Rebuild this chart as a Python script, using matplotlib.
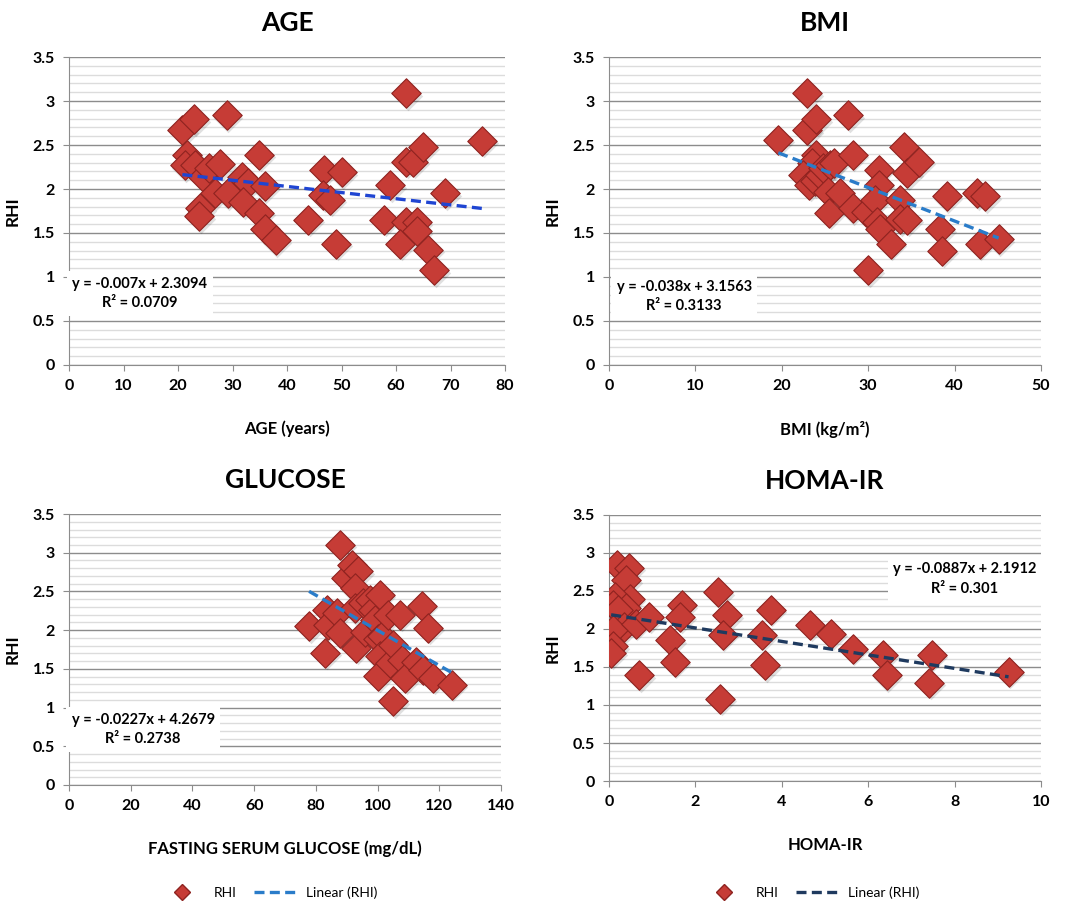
import numpy as np
import matplotlib
matplotlib.use("Agg")
import matplotlib.pyplot as plt
from matplotlib.lines import Line2D

plt.rcParams["font.family"] = ["Lato", "DejaVu Sans"]
plt.rcParams["font.weight"] = "bold"

# ---- data ----
age_x = [20.8, 22.9, 21.7, 21.2, 23.1, 24.6, 25.7, 24.0, 23.9, 26.7, 27.7, 28.9, 29.1,
         31.8, 32.9, 31.9, 34.9, 34.9, 35.9, 35.9, 37.9, 43.9, 46.8, 46.6, 47.9, 49.0,
         50.0, 57.8, 58.9, 61.8, 61.8, 63.2, 65.0, 61.8, 60.8, 63.8, 63.8, 65.9, 67.0,
         69.0, 75.8]
age_y = [2.67, 2.79, 2.39, 2.27, 2.27, 2.14, 2.24, 1.78, 1.69, 1.95, 2.28, 2.84, 1.95,
         2.14, 2.07, 1.85, 2.39, 1.73, 2.03, 1.55, 1.42, 1.65, 2.22, 1.93, 1.88, 1.38,
         2.19, 1.65, 2.04, 3.09, 2.31, 2.31, 2.48, 1.62, 1.38, 1.62, 1.52, 1.31, 1.08,
         1.95, 2.55]

bmi_x = [19.6, 22.95, 22.95, 24.0, 24.0, 23.5, 22.5, 23.2, 23.8, 24.4, 24.8, 25.6, 26.0,
         25.4, 26.7, 25.5, 27.7, 28.2, 28.2, 29.8, 30.0, 31.2, 31.2, 30.8, 31.0, 31.4,
         32.6, 33.7, 33.7, 34.5, 34.2, 34.5, 35.9, 38.3, 38.6, 39.1, 42.6, 43.5, 42.9,
         45.1]
bmi_y = [2.56, 3.09, 2.67, 2.79, 2.39, 2.29, 2.16, 2.05, 2.09, 2.16, 2.24, 2.27, 2.29,
         1.97, 1.96, 1.73, 2.84, 2.39, 1.78, 1.74, 1.08, 2.22, 2.05, 1.88, 1.63, 1.55,
         1.38, 1.88, 1.66, 1.65, 2.48, 2.18, 2.31, 1.54, 1.30, 1.92, 1.95, 1.92, 1.38,
         1.43]

glu_x = [77.8, 82.9, 83.7, 84.0, 86.9, 87.8, 87.8, 89.9, 91.6, 93.7, 92.6, 92.6, 93.0,
         95.4, 95.9, 97.5, 98.4, 99.1, 100.7, 100.2, 101.6, 100.7, 100.2, 103.5, 104.0,
         105.1, 105.1, 107.2, 107.8, 108.9, 112.6, 114.3, 114.8, 116.4, 118.1, 124.0]
glu_y = [2.05, 1.71, 2.26, 2.07, 2.22, 1.96, 3.10, 2.67, 2.84, 2.76, 2.54, 2.28, 1.77,
         2.35, 1.98, 2.39, 2.26, 2.13, 2.46, 1.88, 1.92, 1.66, 1.41, 2.20, 1.57,
         1.81, 1.08, 2.20, 1.62, 1.38, 1.59, 2.31, 1.49, 2.03, 1.38, 1.29]

homa_x = [0.19, 0.46, 0.40, 0.48, 0.13, 0.09, 0.40, 0.21, 0.35, 0.09, 0.62, 0.93, 0.09,
          0.05, 0.70, 1.41, 1.52, 1.68, 1.64, 2.53, 2.57, 2.74, 2.63, 3.55, 3.61, 3.74,
          4.65, 5.15, 5.64, 6.35, 6.43, 7.47, 7.42, 9.25]
homa_y = [2.84, 2.80, 2.64, 2.40, 2.42, 2.31, 2.27, 2.25, 2.03, 1.98, 2.07, 2.16, 1.77,
          1.69, 1.39, 1.85, 1.57, 2.31, 2.16, 2.48, 1.08, 2.18, 1.92, 1.92, 1.52, 2.25,
          2.05, 1.94, 1.74, 1.66, 1.39, 1.66, 1.29, 1.44]

# trendline coefficients shown on the chart (slope, intercept, r2)
age_fit = (-0.007, 2.3094, "0.0709")
bmi_fit = (-0.038, 3.1563, "0.3133")
glu_fit = (-0.0227, 4.2679, "0.2738")
homa_fit = (-0.0887, 2.1912, "0.301")

MARKER = "#c63c36"
EDGE = "#8e2320"

panels = [
    dict(title="AGE", x=age_x, y=age_y, fit=age_fit, xmax=80, xstep=10,
         xlabel="AGE (years)", color="#1f45d2",
         pos=[0.0648, 0.5967, 0.4094, 0.3403], txt=(13.0, 0.815)),
    dict(title="BMI", x=bmi_x, y=bmi_y, fit=bmi_fit, xmax=50, xstep=10,
         xlabel="BMI (kg/m²)", color="#2a7cc9",
         pos=[0.5718, 0.5967, 0.4056, 0.3403], txt=(8.7, 0.78)),
    dict(title="GLUCOSE", x=glu_x, y=glu_y, fit=glu_fit, xmax=140, xstep=20,
         xlabel="FASTING SERUM GLUCOSE (mg/dL)", color="#2a7cc9",
         pos=[0.0648, 0.1326, 0.4056, 0.2994], txt=(24.0, 0.72)),
    dict(title="HOMA-IR", x=homa_x, y=homa_y, fit=homa_fit, xmax=10, xstep=2,
         xlabel="HOMA-IR", color="#1f3a5f",
         pos=[0.5718, 0.137, 0.4056, 0.294], txt=(8.24, 2.66)),
]

fig = plt.figure(figsize=(10.65, 9.05), dpi=100)

for p in panels:
    ax = fig.add_axes(p["pos"])
    ax.set_xlim(0, p["xmax"])
    ax.set_ylim(0, 3.5)
    ax.set_xticks(np.arange(0, p["xmax"] + 0.001, p["xstep"]))
    ax.set_yticks(np.arange(0, 3.51, 0.5))
    ax.set_yticklabels(["0", "0.5", "1", "1.5", "2", "2.5", "3", "3.5"])
    ax.set_yticks(np.arange(0, 3.5, 0.1), minor=True)
    ax.grid(axis="y", which="major", color="#8c8c8c", lw=1.0, zorder=0)
    ax.grid(axis="y", which="minor", color="#dcdcdc", lw=1.0, zorder=0)
    ax.tick_params(axis="y", which="minor", length=0)
    ax.tick_params(axis="both", which="major", length=4, color="#8c8c8c",
                   labelsize=11.5, pad=6)
    for lab in ax.get_xticklabels() + ax.get_yticklabels():
        lab.set_fontweight("bold")
    for s in ("top", "right"):
        ax.spines[s].set_visible(False)
    for s in ("left", "bottom"):
        ax.spines[s].set_color("#8c8c8c")
    ax.set_axisbelow(True)

    xs = np.array(p["x"])
    ys = np.array(p["y"])
    # soft shadow + diamonds
    ax.scatter(xs + p["xmax"] * 0.004, ys - 0.03, marker="D", s=15 ** 2,
               color="#000000", alpha=0.12, lw=0, zorder=2)
    ax.scatter(xs, ys, marker="D", s=15 ** 2, facecolor=MARKER,
               edgecolor=EDGE, lw=0.8, zorder=3)

    slope, icpt, r2 = p["fit"]
    lx = np.array([xs.min(), xs.max()])
    ax.plot(lx, slope * lx + icpt, color=p["color"], lw=2.4,
            dashes=(3, 1.6), zorder=4)

    ax.text(p["txt"][0], p["txt"][1],
            f"y = {slope}x + {icpt}\nR² = {r2}",
            ha="center", va="center", multialignment="center",
            fontsize=10.5, fontweight="bold", linespacing=1.5, zorder=5,
            bbox=dict(facecolor="white", edgecolor="none", pad=4))

    ax.set_title(p["title"], fontsize=19, fontweight="bold", pad=19)
    ax.set_xlabel(p["xlabel"], fontsize=12, fontweight="bold", labelpad=20)
    ax.set_ylabel("RHI", fontsize=12.5, fontweight="bold", labelpad=9)

# legends at the bottom
for cx, col in ((0.253, "#2a7cc9"), (0.762, "#1f3a5f")):
    handles = [
        Line2D([], [], marker="D", ls="none", markersize=8,
               markerfacecolor=MARKER, markeredgecolor=EDGE),
        Line2D([], [], color=col, lw=2.4, dashes=(3, 1.6)),
    ]
    fig.legend(handles, ["RHI", "Linear (RHI)"], loc="center",
               bbox_to_anchor=(cx, 0.014), ncol=2, frameon=False,
               prop=dict(size=10, weight="normal"), handlelength=3,
               columnspacing=1.2)

fig.savefig("out.png", dpi=100)
